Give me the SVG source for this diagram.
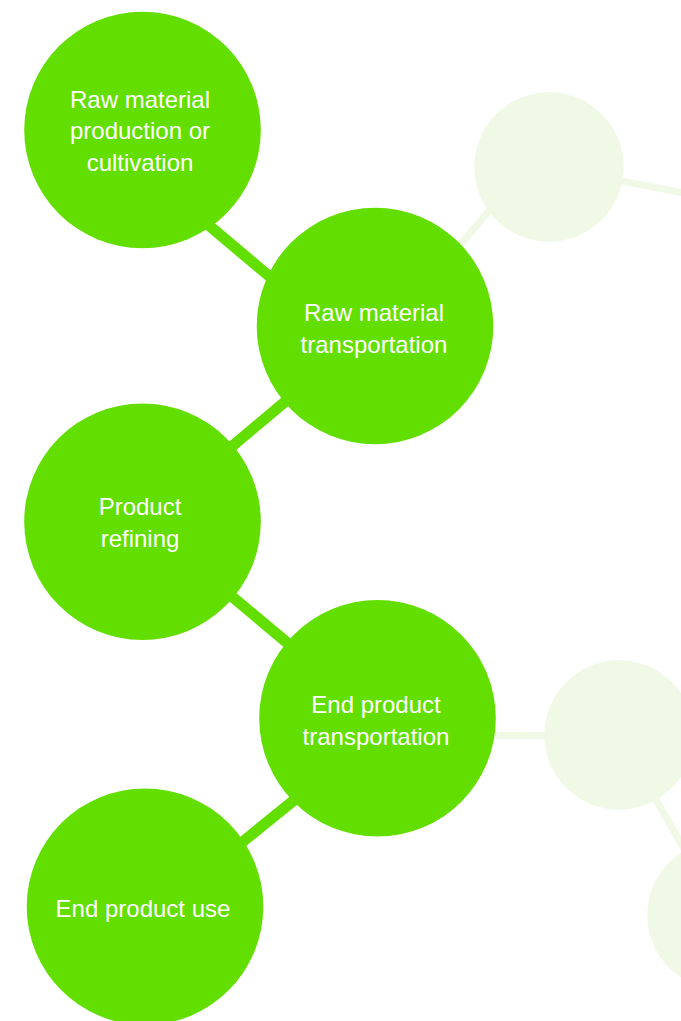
<svg xmlns="http://www.w3.org/2000/svg" width="681" height="1021" viewBox="0 0 681 1021">
  <style>
    .edge { stroke: #62DF00; stroke-width: 11; fill: none; }
    .edge-faded { stroke: #EFF9E6; stroke-width: 7; fill: none; }
    .node { fill: #62DF00; }
    .node-faded { fill: #EFF9E6; }
    .label { font-family: "Liberation Sans", Arial, Helvetica, sans-serif; font-size: 24px; fill: #FFFFFF; text-anchor: middle; }
  </style>
  <rect x="0" y="0" width="681" height="1021" fill="#FFFFFF"/>
  <g id="connectors">
    <line class="edge-faded" x1="520" y1="175" x2="400" y2="315"/>
    <line class="edge-faded" x1="549" y1="167" x2="720" y2="200"/>
    <line class="edge-faded" x1="377.5" y1="736" x2="619" y2="735"/>
    <line class="edge-faded" x1="619" y1="735" x2="722" y2="915"/>
    <line class="edge" x1="123" y1="153" x2="355.6" y2="349"/>
    <line class="edge" x1="375" y1="326" x2="142.5" y2="521.7"/>
    <line class="edge" x1="142.5" y1="521.7" x2="377.5" y2="718.3"/>
    <line class="edge" x1="384.5" y1="726.9" x2="152" y2="915.3"/>
  </g>
  <g id="node-faded-1"><circle class="node-faded" cx="549" cy="167" r="74.7"/></g>
  <g id="node-faded-2"><circle class="node-faded" cx="619" cy="735" r="74.7"/></g>
  <g id="node-faded-3"><circle class="node-faded" cx="722" cy="915" r="74.7"/></g>
  <g id="node-raw-material-production">
    <circle class="node" cx="142.5" cy="130" r="118.3"/>
    <text class="label" x="140" y="107.5">Raw material</text>
    <text class="label" x="140" y="139">production or</text>
    <text class="label" x="140" y="170.5">cultivation</text>
  </g>
  <g id="node-raw-material-transportation">
    <circle class="node" cx="375" cy="326" r="118.3"/>
    <text class="label" x="374" y="321">Raw material</text>
    <text class="label" x="374" y="352.5">transportation</text>
  </g>
  <g id="node-product-refining">
    <circle class="node" cx="142.5" cy="521.7" r="118.3"/>
    <text class="label" x="140" y="515">Product</text>
    <text class="label" x="140" y="546.5">refining</text>
  </g>
  <g id="node-end-product-transportation">
    <circle class="node" cx="377.5" cy="718.3" r="118.3"/>
    <text class="label" x="376" y="713.3">End product</text>
    <text class="label" x="376" y="744.8">transportation</text>
  </g>
  <g id="node-end-product-use">
    <circle class="node" cx="145" cy="906.7" r="118.3"/>
    <text class="label" x="143" y="917.3">End product use</text>
  </g>
</svg>
